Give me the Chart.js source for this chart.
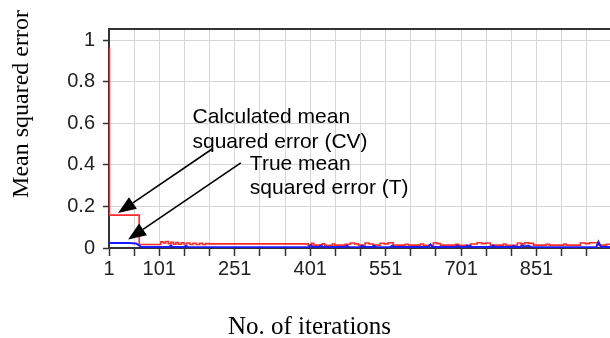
<!DOCTYPE html>
<html>
<head>
<meta charset="utf-8">
<script src="https://cdn.jsdelivr.net/npm/chart.js@4"></script>
<style>
html,body{margin:0;padding:0;background:#fff;overflow:hidden;width:610px;height:338px;}
#wrap{position:absolute;left:0;top:0;width:640px;height:338px;}
</style>
</head>
<body>
<div id="wrap"><canvas id="c" width="640" height="338"></canvas></div>
<script>
// ---- data ----
const cvIterations = [1,2,61,104,109,114,119,124,129,134,139,145,150,156,162,168,174,181,187,193,199,397,404,408,425,430,445,450,470,481,489,497,510,518,526,540,548,556,566,590,596,620,626,646,653,660,690,696,720,733,742,750,759,785,790,813,820,828,836,845,870,876,905,910,938,948,956,972,990,1000];
const cvValues     = [0.96,0.158,0.017,0.03,0.024,0.031,0.021,0.027,0.018,0.026,0.018,0.025,0.019,0.024,0.017,0.023,0.017,0.022,0.017,0.021,0.02,0.014,0.022,0.014,0.02,0.013,0.019,0.014,0.018,0.024,0.02,0.014,0.024,0.019,0.014,0.023,0.02,0.025,0.014,0.018,0.014,0.019,0.013,0.025,0.021,0.014,0.018,0.013,0.019,0.025,0.021,0.024,0.014,0.019,0.013,0.024,0.02,0.025,0.022,0.014,0.018,0.014,0.019,0.014,0.024,0.021,0.025,0.014,0.018,0.016];

const tIterations = [1,40,55,62,65,120,124,128,150,154,158,200,398,402,406,418,422,426,470,474,478,500,504,508,525,528,532,560,564,568,600,636,640,644,690,694,698,710,713,716,719,722,762,765,768,802,805,808,818,822,828,834,840,900,970,974,979,1000];
const tValues     = [0.024,0.024,0.022,0.01,0.005,0.005,0.012,0.005,0.005,0.01,0.005,0.004,0.004,0.014,0.005,0.005,0.012,0.005,0.005,0.012,0.005,0.004,0.012,0.005,0.005,0.011,0.005,0.004,0.011,0.005,0.005,0.005,0.017,0.005,0.005,0.012,0.005,0.005,0.012,0.005,0.011,0.005,0.005,0.012,0.005,0.005,0.011,0.005,0.005,0.012,0.006,0.012,0.005,0.004,0.005,0.03,0.005,0.005];

const xTickLabels = ['1','101','251','401','551','701','851'];
const yTickLabels = ['0','0.2','0.4','0.6','0.8','1'];
const xTitle = 'No. of iterations';
const yTitle = 'Mean squared error';
const cvNote = ['Calculated mean','squared error (CV)'];
const tNote  = ['True mean','squared error (T)'];

// ---- build ----
const cvData = cvIterations.map((x,i)=>({x, y: cvValues[i]}));
const tData  = tIterations.map((x,i)=>({x, y: tValues[i]}));
const xGrid = [];
for (let v = 1; v <= 1001; v += 50) xGrid.push(v);
const yGrid = yTickLabels.map(Number);

function arrow(ctx, x1, y1, x2, y2) {
  const ang = Math.atan2(y2 - y1, x2 - x1);
  const hl = 18, hw = 7;
  const bx = x2 - hl * Math.cos(ang), by = y2 - hl * Math.sin(ang);
  ctx.beginPath();
  ctx.moveTo(x1, y1);
  ctx.lineTo(bx, by);
  ctx.stroke();
  ctx.beginPath();
  ctx.moveTo(x2, y2);
  ctx.lineTo(bx + hw * Math.sin(ang), by - hw * Math.cos(ang));
  ctx.lineTo(bx - hw * Math.sin(ang), by + hw * Math.cos(ang));
  ctx.closePath();
  ctx.fill();
}

const overlay = {
  id: 'overlay',
  afterDraw(chart) {
    const {ctx, chartArea: a, scales: {x, y}} = chart;
    ctx.save();
    // top frame line
    ctx.strokeStyle = '#333';
    ctx.lineWidth = 2;
    ctx.beginPath();
    ctx.moveTo(a.left - 1, a.top);
    ctx.lineTo(a.right + 20, a.top);
    ctx.stroke();

    // annotations
    ctx.fillStyle = '#000';
    ctx.strokeStyle = '#000';
    ctx.lineWidth = 1.6;
    arrow(ctx, x.getPixelForValue(206), y.getPixelForValue(0.476), x.getPixelForValue(19), y.getPixelForValue(0.168));
    arrow(ctx, x.getPixelForValue(263), y.getPixelForValue(0.409), x.getPixelForValue(39), y.getPixelForValue(0.041));

    ctx.font = '21px "Liberation Sans", Arial, sans-serif';
    ctx.textAlign = 'left';
    ctx.textBaseline = 'alphabetic';
    const cx = x.getPixelForValue(167);
    ctx.fillText(cvNote[0], cx, y.getPixelForValue(0.6));
    ctx.fillText(cvNote[1], cx, y.getPixelForValue(0.48));
    const tx = x.getPixelForValue(281);
    ctx.fillText(tNote[0], tx, y.getPixelForValue(0.3745));
    ctx.fillText(tNote[1], tx, y.getPixelForValue(0.262));

    // axis titles
    ctx.font = '25px "Liberation Serif", "Times New Roman", serif';
    ctx.textAlign = 'center';
    ctx.fillText(xTitle, 309.5, 334);
    ctx.save();
    ctx.translate(28, 104);
    ctx.rotate(-Math.PI / 2);
    ctx.font = '24px "Liberation Serif", "Times New Roman", serif';
    ctx.fillText(yTitle, 0, 0);
    ctx.restore();
    ctx.restore();
  }
};

new Chart(document.getElementById('c'), {
  type: 'line',
  data: {
    datasets: [
      {label: 'T', data: tData, borderColor: '#1a1aff', borderWidth: 2, pointRadius: 0, tension: 0, order: 0},
      {label: 'CV', data: cvData, borderColor: '#ff2a2a', borderWidth: 1.6, pointRadius: 0, stepped: true, order: 1}
    ]
  },
  options: {
    responsive: false,
    animation: false,
    devicePixelRatio: 1,
    layout: {padding: {left: 0, right: 28, top: 29, bottom: 0}},
    plugins: {legend: {display: false}, tooltip: {enabled: false}},
    scales: {
      x: {
        type: 'linear',
        min: 1, max: 1001,
        afterBuildTicks: s => { s.ticks = xGrid.map(v => ({value: v})); },
        afterFit: s => { s.height = 90; },
        grid: {color: '#d6d6d6', lineWidth: 1, tickLength: 8, tickColor: '#333', tickWidth: 1.5},
        border: {color: '#333', width: 2},
        ticks: {
          autoSkip: false, maxRotation: 0, padding: 1,
          color: '#222',
          font: {family: '"Liberation Sans", Arial, sans-serif', size: 20},
          callback: v => xTickLabels.includes(String(v)) ? String(v) : ''
        }
      },
      y: {
        min: 0, max: 1.053,
        afterBuildTicks: s => { s.ticks = yGrid.map(v => ({value: v})); },
        afterFit: s => { s.width = 109; },
        grid: {color: '#d6d6d6', lineWidth: 1, tickLength: 6, tickColor: '#333', tickWidth: 1.5},
        border: {color: '#333', width: 2},
        ticks: {
          padding: 8, color: '#222',
          font: {family: '"Liberation Sans", Arial, sans-serif', size: 20},
          callback: v => yTickLabels[yGrid.indexOf(v)] ?? ''
        }
      }
    }
  },
  plugins: [overlay]
});
</script>
</body>
</html>
